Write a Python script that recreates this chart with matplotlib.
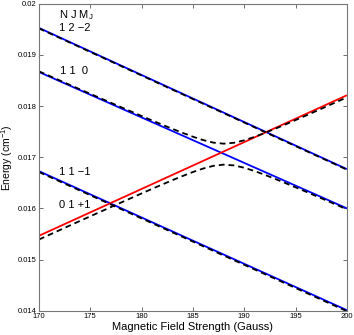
import matplotlib
matplotlib.use("Agg")
import matplotlib.pyplot as plt

plt.rcParams['font.family'] = ['Liberation Sans', 'DejaVu Sans']
plt.rcParams['mathtext.fontset'] = 'custom'
plt.rcParams['mathtext.rm'] = 'Liberation Sans'
plt.rcParams['mathtext.it'] = 'Liberation Sans'

# Field endpoints for straight (diabatic) levels
field_ends = [170, 200]
level_122 = [0.01953, 0.016768]     # N J MJ = 1 2 -2 (blue)
level_110 = [0.018668, 0.016001]    # 1 1 0 (blue)
level_11m1 = [0.016729, 0.01401]    # 1 1 -1 (blue)
level_01p1 = [0.015465, 0.018213]   # 0 1 +1 (red)

# Dashed (calculated) curves
dash_straight_122 = [0.01952, 0.016758]
dash_straight_11m1 = [0.016712, 0.01399]

field_curve = [170, 172, 174, 176, 178, 180, 181, 182, 183, 184, 185, 186, 187,
               188, 189, 190, 191, 192, 193, 194, 196, 198, 200]
upper_branch = [0.018681, 0.018505, 0.018328, 0.018154, 0.01798, 0.017807,
                0.017722, 0.017638, 0.017556, 0.017477, 0.017402, 0.017336,
                0.017286, 0.017266, 0.017284, 0.017332, 0.017399, 0.017475,
                0.017557, 0.017641, 0.017815, 0.017993, 0.018172]
lower_branch = [0.015392, 0.015574, 0.015756, 0.015936, 0.016115, 0.016293,
                0.016381, 0.016467, 0.016552, 0.016634, 0.016712, 0.01678,
                0.016833, 0.016856, 0.016841, 0.016795, 0.016731, 0.016657,
                0.016578, 0.016496, 0.016328, 0.016156, 0.015982]

level_labels = ["N J M$_\\mathrm{J}$", "1 2 \u22122", "1 1  0", "1 1 \u22121", "0 1 +1"]
label_field = [172.0, 172.0, 172.1, 172.0, 172.0]
label_energy = [0.019775, 0.019521, 0.018682, 0.016709, 0.016064]

xticks = [170, 175, 180, 185, 190, 195, 200]
yticks = [0.014, 0.015, 0.016, 0.017, 0.018, 0.019, 0.02]
ytick_labels = ["0.014", "0.015", "0.016", "0.017", "0.018", "0.019", "0.02"]

fig = plt.figure(figsize=(3.54, 3.35), dpi=100)
ax = fig.add_axes([0.110, 0.0725, 0.870, 0.916])

blue = '#0000ff'
red = '#ff0000'
lw = 1.3
for lev in (level_122, level_110, level_11m1):
    ax.plot(field_ends, lev, color=blue, lw=lw, solid_capstyle='butt')
ax.plot(field_ends, level_01p1, color=red, lw=lw, solid_capstyle='butt')

dash = dict(color='black', lw=1.3, linestyle=(0, (3.2, 2.2)))
ax.plot(field_ends, dash_straight_122, **dash)
ax.plot(field_ends, dash_straight_11m1, **dash)
ax.plot(field_curve, upper_branch, **dash)
ax.plot(field_curve, lower_branch, **dash)

for t, xx, yy in zip(level_labels, label_field, label_energy):
    ax.text(xx, yy, t, fontsize=8, ha='left', va='center', color='black')

ax.set_xlim(170, 200)
ax.set_ylim(0.014, 0.02)
ax.set_xticks(xticks)
ax.set_xticklabels([str(v) for v in xticks])
ax.set_yticks(yticks)
ax.set_yticklabels(ytick_labels)
ax.tick_params(direction='in', length=3, width=0.6, labelsize=5.5, top=True, right=True,
               color='#555555', pad=2)
for s in ax.spines.values():
    s.set_color('#777777')
    s.set_linewidth(0.8)

ax.set_xlabel("Magnetic Field Strength (Gauss)", fontsize=8, labelpad=1)
ax.set_ylabel("Energy (cm$^{-1}$)", fontsize=7.5, labelpad=2)

fig.savefig("out.png", dpi=100)
